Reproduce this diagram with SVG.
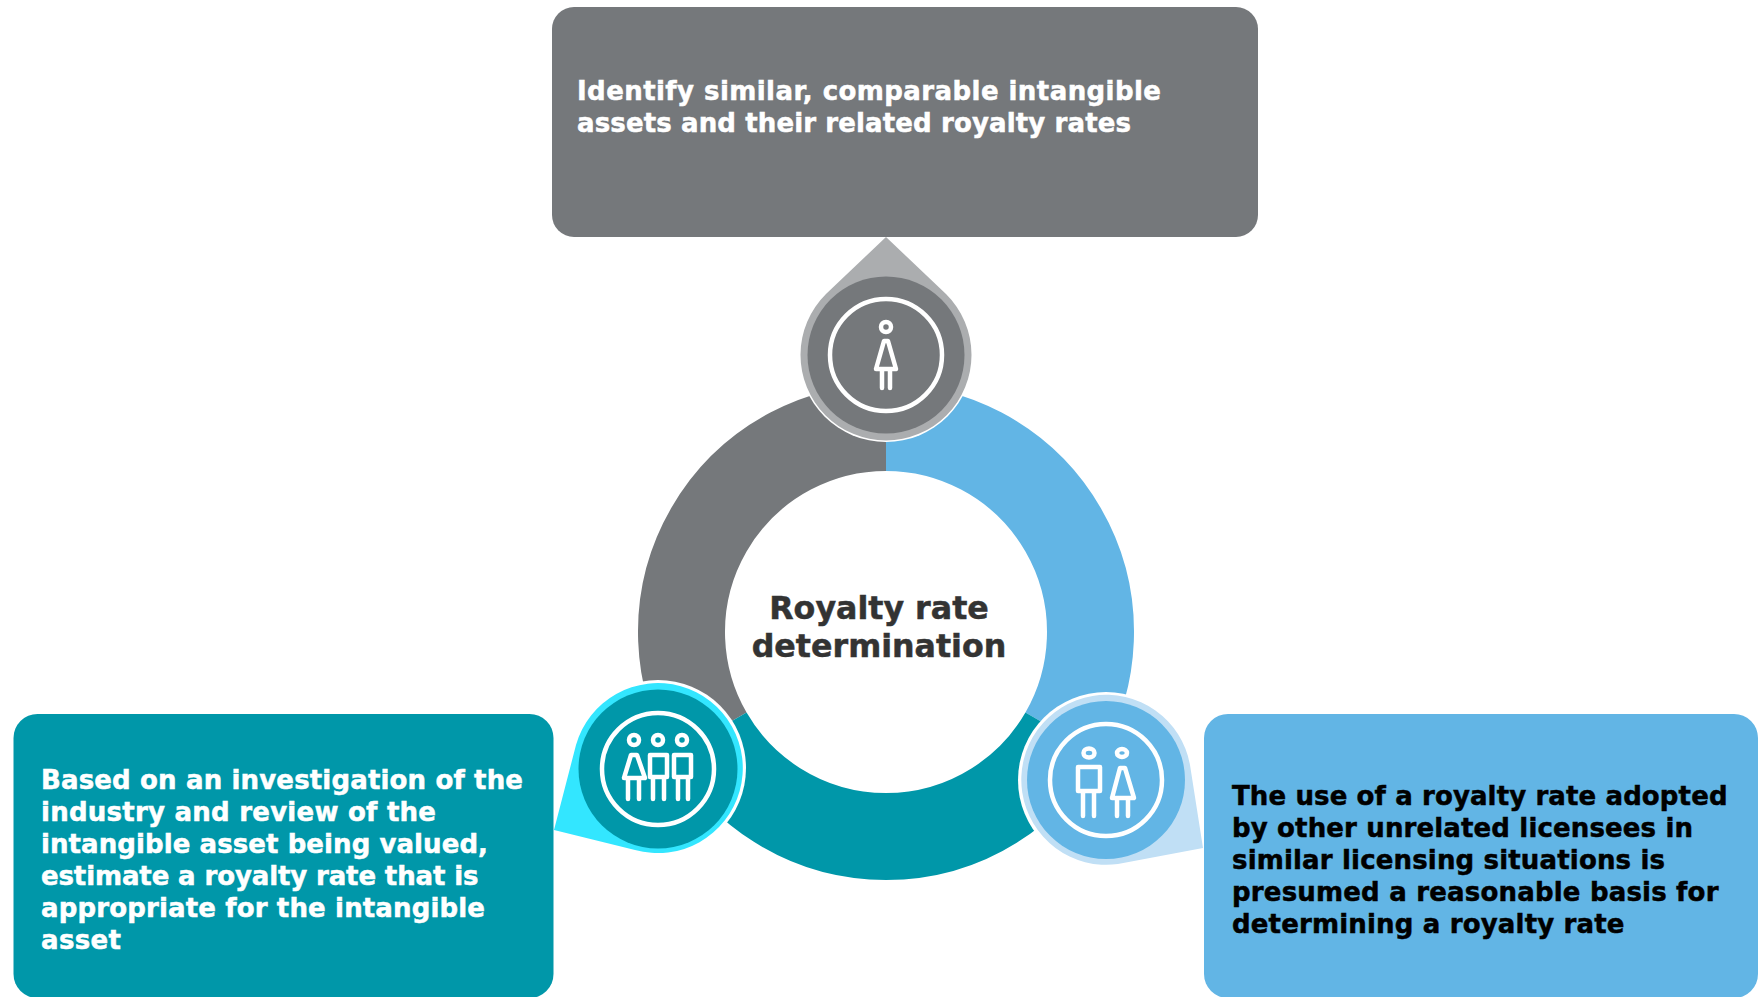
<svg xmlns="http://www.w3.org/2000/svg" width="1758" height="997" viewBox="0 0 1758 997">
<style>
.t{font-family:"DejaVu Sans",Verdana,sans-serif;font-weight:700;font-size:26px;stroke-width:.5px}
.w{fill:#fff;stroke:#fff}.k{fill:#000;stroke:#000}
.c{font-family:"DejaVu Sans",Verdana,sans-serif;font-weight:700;font-size:31.7px;fill:#333;stroke:#333;stroke-width:.5px;text-anchor:middle}
.ic{fill:none;stroke:#fff;stroke-width:4.5;stroke-linejoin:round;stroke-linecap:round}
.seg{fill:none;stroke-width:87}
</style>
<rect width="1758" height="997" fill="#fff"/>
<g id="connectors">
<path class="seg" stroke="#75787b" d="M708.9 734.25A204.5 204.5 0 0 1 886 427.5"/>
<path class="seg" stroke="#62b5e5" d="M886 427.5A204.5 204.5 0 0 1 1063.1 734.25"/>
<path class="seg" stroke="#0097a9" d="M1063.1 734.25A204.5 204.5 0 0 1 708.9 734.25"/>
</g>
<g id="node-top">
<rect x="552" y="7" width="706" height="230" rx="22" fill="#75787b"/>
<circle cx="886" cy="355" r="87" fill="#fff"/>
<path d="M886 237L826 294A85.5 85.5 0 1 0 946 294Z" fill="#abadaf"/>
<circle cx="886" cy="355" r="78.5" fill="#75787b"/>
<circle cx="886" cy="355" r="56" class="ic"/>
<g class="ic"><circle cx="886" cy="327" r="5"/><path d="M884 341h4l8 28h-20zM882 369v19M890 369v19"/></g>
<text class="t w" x="577" y="100" textLength="584">Identify similar, comparable intangible</text>
<text class="t w" x="577" y="132" textLength="554">assets and their related royalty rates</text>
</g>
<g id="node-left">
<rect x="13.5" y="714" width="540" height="284" rx="24" fill="#0097a9"/>
<circle cx="658" cy="768" r="88" fill="#fff"/>
<path d="M554 830L576 745A85 85 0 1 1 635 850Z" fill="#33e6ff"/>
<circle cx="658" cy="769" r="79.5" fill="#0097a9"/>
<circle cx="658" cy="769" r="56" class="ic"/>
<g class="ic"><circle cx="634" cy="740" r="5"/><circle cx="658" cy="740" r="5"/><circle cx="682" cy="740" r="5"/>
<path d="M631 755h6l8 23h-21zM628 778v21M639 778v21"/><path d="M650 755h17v22h-17zM653 777v22M664 777v22"/><path d="M674 755h17v22h-17zM678 777v22M688 777v22"/></g>
<text class="t w" x="41" y="789" textLength="482">Based on an investigation of the</text>
<text class="t w" x="41" y="821" textLength="395">industry and review of the</text>
<text class="t w" x="41" y="853" textLength="447">intangible asset being valued,</text>
<text class="t w" x="41" y="885" textLength="437.5">estimate a royalty rate that is</text>
<text class="t w" x="41" y="917" textLength="444">appropriate for the intangible</text>
<text class="t w" x="41" y="949" textLength="80">asset</text>
</g>
<g id="node-right">
<rect x="1204" y="714" width="554" height="284" rx="24" fill="#62b5e5"/>
<circle cx="1106" cy="780" r="88" fill="#fff"/>
<path d="M1203 848L1190 765A85 85 0 1 0 1118 864Z" fill="#c0dff5"/>
<circle cx="1106" cy="780" r="79" fill="#62b5e5"/>
<circle cx="1106" cy="780" r="56" class="ic"/>
<g class="ic"><ellipse cx="1089" cy="753" rx="5.5" ry="4.5"/><ellipse cx="1122" cy="753" rx="5" ry="4"/>
<path d="M1078 767h22v24h-22zM1083 791v25M1094 791v25"/><path d="M1120 768h5l9 30h-22zM1117 798v18M1128 798v18"/></g>
<text class="t k" x="1232" y="804.5" textLength="495.5">The use of a royalty rate adopted</text>
<text class="t k" x="1232" y="836.5" textLength="461">by other unrelated licensees in</text>
<text class="t k" x="1232" y="868.5" textLength="433">similar licensing situations is</text>
<text class="t k" x="1232" y="900.5" textLength="486.5">presumed a reasonable basis for</text>
<text class="t k" x="1232" y="932.5" textLength="392.5">determining a royalty rate</text>
</g>
<g id="node-center">
<text class="c"><tspan x="879" y="619">Royalty rate</tspan><tspan x="879" y="657">determination</tspan></text>
</g>
</svg>
